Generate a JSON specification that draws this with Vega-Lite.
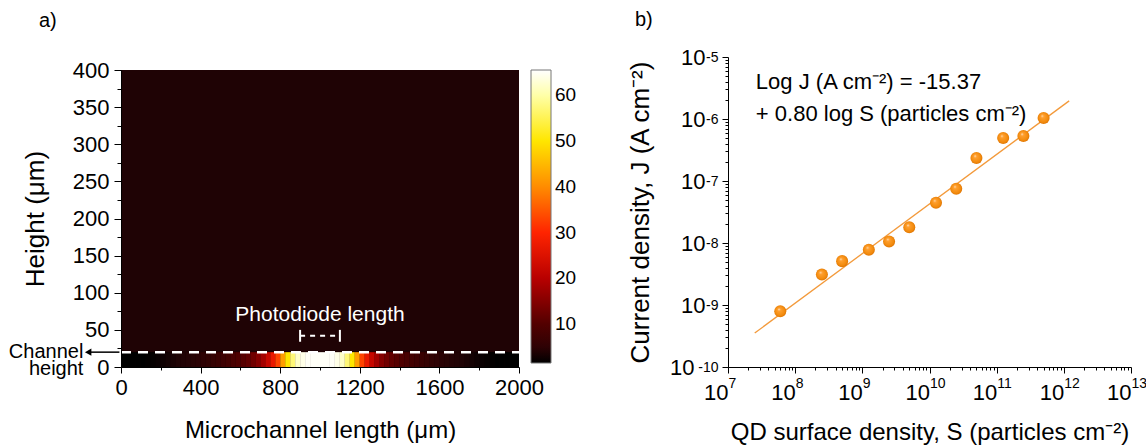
{
 "$schema": "https://vega.github.io/schema/vega-lite/v6.json",
 "padding": {"left": 8, "top": 10, "right": 4, "bottom": 2},
 "config": {
  "view": {"stroke": null},
  "font": "Liberation Sans",
  "axis": {"labelColor": "#000", "titleColor": "#000", "domainColor": "#000", "tickColor": "#000", "grid": false, "titleFontWeight": "normal", "labelFlush": false, "labelOverlap": false, "labelFont": "Liberation Sans", "titleFont": "Liberation Sans"}
 },
 "resolve": {"scale": {"color": "independent"}, "legend": {"color": "independent"}},
 "datasets": {
  "cells": [
   {"x0":0,"x1":2000,"y0":0,"y1":400,"v":3},
   {"x0":0,"x1":25,"y0":0,"y1":20,"v":1.2},{"x0":25,"x1":50,"y0":0,"y1":20,"v":1.25},{"x0":50,"x1":75,"y0":0,"y1":20,"v":1.3},{"x0":75,"x1":100,"y0":0,"y1":20,"v":1.4},
   {"x0":100,"x1":125,"y0":0,"y1":20,"v":1.5},{"x0":125,"x1":150,"y0":0,"y1":20,"v":1.65},{"x0":150,"x1":175,"y0":0,"y1":20,"v":1.8},{"x0":175,"x1":200,"y0":0,"y1":20,"v":2.0},
   {"x0":200,"x1":225,"y0":0,"y1":20,"v":2.2},{"x0":225,"x1":250,"y0":0,"y1":20,"v":2.45},{"x0":250,"x1":275,"y0":0,"y1":20,"v":2.7},{"x0":275,"x1":300,"y0":0,"y1":20,"v":3.0},
   {"x0":300,"x1":325,"y0":0,"y1":20,"v":3.3},{"x0":325,"x1":350,"y0":0,"y1":20,"v":3.7},{"x0":350,"x1":375,"y0":0,"y1":20,"v":4.1},{"x0":375,"x1":400,"y0":0,"y1":20,"v":4.5},
   {"x0":400,"x1":425,"y0":0,"y1":20,"v":5.0},{"x0":425,"x1":450,"y0":0,"y1":20,"v":5.5},{"x0":450,"x1":475,"y0":0,"y1":20,"v":6.0},{"x0":475,"x1":500,"y0":0,"y1":20,"v":6.6},
   {"x0":500,"x1":525,"y0":0,"y1":20,"v":7.2},{"x0":525,"x1":550,"y0":0,"y1":20,"v":8.0},{"x0":550,"x1":575,"y0":0,"y1":20,"v":8.8},{"x0":575,"x1":600,"y0":0,"y1":20,"v":9.6},
   {"x0":600,"x1":625,"y0":0,"y1":20,"v":10.5},{"x0":625,"x1":650,"y0":0,"y1":20,"v":11.5},{"x0":650,"x1":675,"y0":0,"y1":20,"v":13},{"x0":675,"x1":700,"y0":0,"y1":20,"v":15},
   {"x0":700,"x1":725,"y0":0,"y1":20,"v":18},{"x0":725,"x1":750,"y0":0,"y1":20,"v":22},{"x0":750,"x1":775,"y0":0,"y1":20,"v":27},{"x0":775,"x1":800,"y0":0,"y1":20,"v":33},
   {"x0":800,"x1":825,"y0":0,"y1":20,"v":42},{"x0":825,"x1":850,"y0":0,"y1":20,"v":50},{"x0":850,"x1":875,"y0":0,"y1":20,"v":57},{"x0":875,"x1":900,"y0":0,"y1":20,"v":62},
   {"x0":900,"x1":925,"y0":0,"y1":20,"v":64},{"x0":925,"x1":950,"y0":0,"y1":20,"v":65},{"x0":950,"x1":975,"y0":0,"y1":20,"v":65},{"x0":975,"x1":1000,"y0":0,"y1":20,"v":65},
   {"x0":1000,"x1":1025,"y0":0,"y1":20,"v":65},{"x0":1025,"x1":1050,"y0":0,"y1":20,"v":65},{"x0":1050,"x1":1075,"y0":0,"y1":20,"v":65},{"x0":1075,"x1":1100,"y0":0,"y1":20,"v":64},
   {"x0":1100,"x1":1125,"y0":0,"y1":20,"v":62},{"x0":1125,"x1":1150,"y0":0,"y1":20,"v":57},{"x0":1150,"x1":1175,"y0":0,"y1":20,"v":50},{"x0":1175,"x1":1200,"y0":0,"y1":20,"v":42},
   {"x0":1200,"x1":1225,"y0":0,"y1":20,"v":33},{"x0":1225,"x1":1250,"y0":0,"y1":20,"v":27},{"x0":1250,"x1":1275,"y0":0,"y1":20,"v":22},{"x0":1275,"x1":1300,"y0":0,"y1":20,"v":18},
   {"x0":1300,"x1":1325,"y0":0,"y1":20,"v":15},{"x0":1325,"x1":1350,"y0":0,"y1":20,"v":13},{"x0":1350,"x1":1375,"y0":0,"y1":20,"v":11.5},{"x0":1375,"x1":1400,"y0":0,"y1":20,"v":10.5},
   {"x0":1400,"x1":1425,"y0":0,"y1":20,"v":9.6},{"x0":1425,"x1":1450,"y0":0,"y1":20,"v":8.8},{"x0":1450,"x1":1475,"y0":0,"y1":20,"v":8.0},{"x0":1475,"x1":1500,"y0":0,"y1":20,"v":7.2},
   {"x0":1500,"x1":1525,"y0":0,"y1":20,"v":6.6},{"x0":1525,"x1":1550,"y0":0,"y1":20,"v":6.0},{"x0":1550,"x1":1575,"y0":0,"y1":20,"v":5.5},{"x0":1575,"x1":1600,"y0":0,"y1":20,"v":5.0},
   {"x0":1600,"x1":1625,"y0":0,"y1":20,"v":4.5},{"x0":1625,"x1":1650,"y0":0,"y1":20,"v":4.1},{"x0":1650,"x1":1675,"y0":0,"y1":20,"v":3.7},{"x0":1675,"x1":1700,"y0":0,"y1":20,"v":3.3},
   {"x0":1700,"x1":1725,"y0":0,"y1":20,"v":3.0},{"x0":1725,"x1":1750,"y0":0,"y1":20,"v":2.7},{"x0":1750,"x1":1775,"y0":0,"y1":20,"v":2.45},{"x0":1775,"x1":1800,"y0":0,"y1":20,"v":2.2},
   {"x0":1800,"x1":1825,"y0":0,"y1":20,"v":2.0},{"x0":1825,"x1":1850,"y0":0,"y1":20,"v":1.8},{"x0":1850,"x1":1875,"y0":0,"y1":20,"v":1.65},{"x0":1875,"x1":1900,"y0":0,"y1":20,"v":1.5},
   {"x0":1900,"x1":1925,"y0":0,"y1":20,"v":1.4},{"x0":1925,"x1":1950,"y0":0,"y1":20,"v":1.3},{"x0":1950,"x1":1975,"y0":0,"y1":20,"v":1.25},{"x0":1975,"x1":2000,"y0":0,"y1":20,"v":1.2}
  ],
  "chan": [{"x0":0,"x1":2000,"y":20}],
  "bracket": [{"x0":900,"x1":1100,"y":42}],
  "caps": [{"x":900,"y0":34,"y1":50},{"x":1100,"y0":34,"y1":50}],
  "pdtext": [{"x":1000,"y":70,"t":"Photodiode length"}],
  "chlabel": [{"x":-189,"y":20.5,"t":"Channel"},{"x":-189,"y":-2.5,"t":"height"}],
  "arrow": [{"x0":-160,"x1":-8,"y":20}],
  "arrowhead": [{"x":-165,"y":20}],
  "points": [
   {"S":6e7,"J":7.9e-10},{"S":2.5e8,"J":3.1e-9},{"S":5e8,"J":5.1e-9},{"S":1.25e9,"J":7.8e-9},
   {"S":2.5e9,"J":1.06e-8},{"S":5e9,"J":1.79e-8},{"S":1.25e10,"J":4.47e-8},{"S":2.5e10,"J":7.5e-8},
   {"S":5e10,"J":2.35e-7},{"S":1.25e11,"J":4.94e-7},{"S":2.5e11,"J":5.3e-7},{"S":5e11,"J":1.04e-6}
  ],
  "fit": [{"S":2.5e7,"J":3.53e-10},{"S":1.2e12,"J":1.96e-6}],
  "eq": [{"S":2.6e7,"J":4.0e-6,"t":"Log J (A cm⁻²) = -15.37"},{"S":2.6e7,"J":1.22e-6,"t":"+ 0.80 log S (particles cm⁻²)"}]
 },
 "spacing": 50,
 "hconcat": [
  {
   "width": 398, "height": 310,
   "title": {"text": "a)", "anchor": "start", "frame": "group", "dx": -82, "offset": 10, "fontSize": 20, "fontWeight": "normal", "font": "Liberation Sans", "color": "#000", "baseline": "alphabetic"},
   "resolve": {"axis": {"x": "independent", "y": "independent"}},
   "layer": [
    {
     "data": {"name": "cells"},
     "mark": {"type": "rect"},
     "encoding": {
      "x": {"field": "x0", "type": "quantitative", "scale": {"domain": [0, 2000], "nice": false, "zero": false},
            "axis": {"orient": "bottom", "values": [0, 400, 800, 1200, 1600, 2000], "format": "d", "tickSize": 6, "labelPadding": 4, "labelFontSize": 22, "title": "Microchannel length (μm)", "titleFontSize": 24, "titlePadding": 20, "zindex": 1}},
      "x2": {"field": "x1"},
      "y": {"field": "y0", "type": "quantitative", "scale": {"domain": [0, 400], "nice": false, "zero": false, "range": [310, 13]},
            "axis": {"orient": "left", "values": [0, 50, 100, 150, 200, 250, 300, 350, 400], "tickSize": 7, "labelPadding": 5, "labelFontSize": 22, "title": "Height (μm)", "titleFontSize": 26, "titlePadding": 24, "zindex": 1}},
      "y2": {"field": "y1"},
      "color": {"field": "v", "type": "quantitative",
                "scale": {"type": "linear", "domain": [1.5, 3, 10, 20, 30, 40, 50, 60, 65.5], "range": ["#000000", "#1f0305", "#520000", "#b80000", "#ff2400", "#ff8c00", "#ffe600", "#ffffa8", "#ffffff"], "interpolate": "rgb", "clamp": true},
                "legend": {"type": "gradient", "orient": "none", "legendX": 410, "legendY": 13, "title": null, "direction": "vertical", "gradientLength": 293, "gradientThickness": 20, "values": [10, 20, 30, 40, 50, 60], "labelFontSize": 19, "labelColor": "#000", "labelFont": "Liberation Sans", "gradientStrokeColor": "#777", "gradientStrokeWidth": 1, "labelOffset": 4}}
     }
    },
    {
     "data": {"name": "cells"},
     "mark": {"type": "rect"},
     "encoding": {
      "x": {"field": "x0", "type": "quantitative", "axis": null},
      "x2": {"field": "x1"},
      "y": {"field": "y0", "type": "quantitative", "axis": null},
      "y2": {"field": "y1"},
      "color": {"field": "v", "type": "quantitative"}
     }
    },
    {
     "data": {"name": "chan"},
     "mark": {"type": "rule", "color": "#ffffff", "strokeWidth": 2.5, "strokeDash": [10, 7]},
     "encoding": {
      "x": {"field": "x0", "type": "quantitative", "axis": {"orient": "bottom", "values": [200, 600, 1000, 1400, 1800], "tickSize": 3, "labels": false, "domain": false, "title": null, "zindex": 1}},
      "x2": {"field": "x1"},
      "y": {"field": "y", "type": "quantitative", "axis": {"orient": "left", "values": [25, 75, 125, 175, 225, 275, 325, 375], "tickSize": 4, "labels": false, "domain": false, "title": null, "zindex": 1}}
     }
    },
    {
     "data": {"name": "bracket"},
     "mark": {"type": "rule", "color": "#ffffff", "strokeWidth": 2, "strokeDash": [5, 5]},
     "encoding": {
      "x": {"field": "x0", "type": "quantitative", "axis": null},
      "x2": {"field": "x1"},
      "y": {"field": "y", "type": "quantitative", "axis": null}
     }
    },
    {
     "data": {"name": "caps"},
     "mark": {"type": "rule", "color": "#ffffff", "strokeWidth": 2},
     "encoding": {
      "x": {"field": "x", "type": "quantitative", "axis": null},
      "y": {"field": "y0", "type": "quantitative", "axis": null},
      "y2": {"field": "y1"}
     }
    },
    {
     "data": {"name": "pdtext"},
     "mark": {"type": "text", "color": "#ffffff", "fontSize": 21, "align": "center", "baseline": "middle", "font": "Liberation Sans"},
     "encoding": {
      "x": {"field": "x", "type": "quantitative", "axis": null},
      "y": {"field": "y", "type": "quantitative", "axis": null},
      "text": {"field": "t"}
     }
    },
    {
     "data": {"name": "chlabel"},
     "mark": {"type": "text", "color": "#000000", "fontSize": 20, "align": "right", "baseline": "middle", "font": "Liberation Sans"},
     "encoding": {
      "x": {"field": "x", "type": "quantitative", "axis": null},
      "y": {"field": "y", "type": "quantitative", "axis": null},
      "text": {"field": "t"}
     }
    },
    {
     "data": {"name": "arrow"},
     "mark": {"type": "rule", "color": "#000000", "strokeWidth": 1.5},
     "encoding": {
      "x": {"field": "x0", "type": "quantitative", "axis": null},
      "x2": {"field": "x1"},
      "y": {"field": "y", "type": "quantitative", "axis": null}
     }
    },
    {
     "data": {"name": "arrowhead"},
     "mark": {"type": "point", "shape": "triangle-left", "filled": true, "color": "#000000", "size": 55, "opacity": 1},
     "encoding": {
      "x": {"field": "x", "type": "quantitative", "axis": null},
      "y": {"field": "y", "type": "quantitative", "axis": null}
     }
    }
   ]
  },
  {
   "width": 403, "height": 310,
   "title": {"text": "b)", "anchor": "start", "frame": "group", "dx": -93, "offset": 0, "fontSize": 20, "fontWeight": "normal", "font": "Liberation Sans", "color": "#000", "baseline": "alphabetic"},
   "resolve": {"axis": {"x": "independent", "y": "independent"}},
   "layer": [
    {
     "data": {"name": "fit"},
     "mark": {"type": "line", "color": "#f39a3b", "strokeWidth": 1.3},
     "encoding": {
      "x": {"field": "S", "type": "quantitative", "scale": {"type": "log", "domain": [1e7, 1e13], "nice": false},
            "axis": {"orient": "bottom", "values": [1e7,2e7,3e7,4e7,5e7,6e7,7e7,8e7,9e7,1e8,2e8,3e8,4e8,5e8,6e8,7e8,8e8,9e8,1e9,2e9,3e9,4e9,5e9,6e9,7e9,8e9,9e9,1e10,2e10,3e10,4e10,5e10,6e10,7e10,8e10,9e10,1e11,2e11,3e11,4e11,5e11,6e11,7e11,8e11,9e11,1e12,2e12,3e12,4e12,5e12,6e12,7e12,8e12,9e12,1e13],
                     "labels": false, "title": null,
                     "tickSize": {"condition": {"test": "abs(log(datum.value)/LN10 - round(log(datum.value)/LN10)) < 0.01", "value": 6}, "value": 3}}},
      "y": {"field": "J", "type": "quantitative", "scale": {"type": "log", "domain": [1e-10, 1e-5], "nice": false},
            "axis": {"orient": "left", "values": [1e-10,2e-10,3e-10,4e-10,5e-10,6e-10,7e-10,8e-10,9e-10,1e-9,2e-9,3e-9,4e-9,5e-9,6e-9,7e-9,8e-9,9e-9,1e-8,2e-8,3e-8,4e-8,5e-8,6e-8,7e-8,8e-8,9e-8,1e-7,2e-7,3e-7,4e-7,5e-7,6e-7,7e-7,8e-7,9e-7,1e-6,2e-6,3e-6,4e-6,5e-6,6e-6,7e-6,8e-6,9e-6,1e-5],
                     "labels": false, "title": null,
                     "tickSize": {"condition": {"test": "abs(log(datum.value)/LN10 - round(log(datum.value)/LN10)) < 0.01", "value": 6}, "value": 3}}}
     }
    },
    {
     "data": {"name": "points"},
     "mark": {"type": "point", "shape": "circle", "filled": true, "size": 145, "opacity": 1, "strokeWidth": 0,
              "fill": {"gradient": "radial", "x1": 0.38, "y1": 0.32, "r1": 0, "x2": 0.5, "y2": 0.5, "r2": 0.55,
                       "stops": [{"offset": 0, "color": "#ffe6c8"}, {"offset": 0.22, "color": "#ffa030"}, {"offset": 0.75, "color": "#f28a0c"}, {"offset": 1, "color": "#d66c00"}]}},
     "encoding": {
      "x": {"field": "S", "type": "quantitative", "scale": {"type": "log", "domain": [1e7, 1e13], "nice": false},
            "axis": {"orient": "bottom", "values": [1e7, 1e8, 1e9, 1e10, 1e11, 1e12, 1e13], "ticks": false, "domain": false,
                     "labelExpr": "'10'", "labelAlign": "right", "labelDx": 3, "labelPadding": 15, "labelFontSize": 22, "labelBaseline": "top",
                     "title": "QD surface density, S (particles cm⁻²)", "titleFontSize": 24, "titlePadding": 17}},
      "y": {"field": "J", "type": "quantitative", "scale": {"type": "log", "domain": [1e-10, 1e-5], "nice": false},
            "axis": {"orient": "left", "values": [1e-10, 1e-9, 1e-8, 1e-7, 1e-6, 1e-5], "ticks": false, "domain": false,
                     "labelExpr": "'10'", "labelFontSize": 22, "labelBaseline": "middle",
                     "labelPadding": {"condition": {"test": "datum.value < 5e-10", "value": 34}, "value": 23},
                     "title": "Current density, J (A cm⁻²)", "titleFontSize": 26, "titlePadding": 16}}
     }
    },
    {
     "data": {"name": "eq"},
     "mark": {"type": "text", "color": "#000000", "fontSize": 22, "align": "left", "baseline": "middle", "font": "Liberation Sans"},
     "encoding": {
      "x": {"field": "S", "type": "quantitative", "scale": {"type": "log", "domain": [1e7, 1e13], "nice": false},
            "axis": {"orient": "bottom", "values": [1e7, 1e8, 1e9, 1e10, 1e11, 1e12, 1e13], "ticks": false, "domain": false,
                     "labelExpr": "'' + round(log(datum.value)/LN10)", "labelAlign": "left", "labelDx": 3, "labelPadding": 9, "labelFontSize": 14, "title": null}},
      "y": {"field": "J", "type": "quantitative", "scale": {"type": "log", "domain": [1e-10, 1e-5], "nice": false},
            "axis": {"orient": "left", "values": [1e-10, 1e-9, 1e-8, 1e-7, 1e-6, 1e-5], "ticks": false, "domain": false,
                     "labelExpr": "'' + round(log(datum.value)/LN10)", "labelPadding": 10, "labelFontSize": 14, "labelDy": -9, "labelBaseline": "middle", "title": null}},
      "text": {"field": "t"}
     }
    }
   ]
  }
 ]
}
